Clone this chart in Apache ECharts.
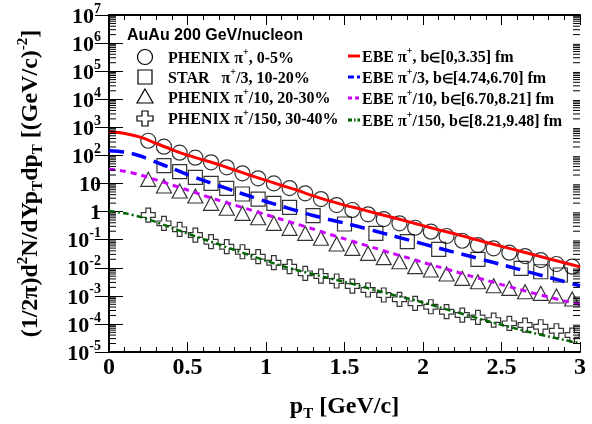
<!DOCTYPE html>
<html><head><meta charset="utf-8">
<script src="https://cdn.jsdelivr.net/npm/echarts@6/dist/echarts.min.js"></script>
<style>html,body{margin:0;padding:0;background:#fff}#c{width:592px;height:424px}</style>
</head><body><div id="c"></div>
<script>
// ---- data ----
const pT_phenix = [0.25,0.35,0.45,0.55,0.65,0.75,0.85,0.95,1.05,1.15,1.25,1.35,1.45,1.55,1.65,1.75,1.85,1.95,2.05,2.15,2.25,2.35,2.45,2.55,2.65,2.75,2.85,2.95];
const phenix_0_5 = [333,204,125,82.8,56.8,37.7,23.1,15.3,10.1,6.90,4.47,2.80,1.71,1.14,0.798,0.543,0.382,0.266,0.192,0.135,0.0916,0.0644,0.0492,0.0343,0.0261,0.0188,0.0136,0.0109];
const pT_star = [0.35,0.45,0.55,0.65,0.75,0.85,0.95,1.05,1.15,1.3,1.5,1.7,1.9,2.1,2.35,2.625,2.75,2.875];
const star_10_20 = [43.0,26.3,16.6,10.1,6.73,4.22,2.80,1.97,1.42,0.713,0.361,0.168,0.0845,0.0453,0.0200,0.00953,0.00721,0.00551];
const phenix_20_30 = [14.1,8.13,5.40,3.58,1.97,1.31,0.867,0.604,0.382,0.254,0.168,0.112,0.0700,0.0492,0.0327,0.0228,0.0164,0.0109,0.00830,0.00597,0.00420,0.00318,0.00229,0.00185,0.00140,0.00123,0.000984,0.000769];
const phenix_30_40 = [0.753,0.382,0.233,0.146,0.0845,0.0561,0.0372,0.0247,0.0151,0.0109,0.00632,0.00507,0.00337,0.00223,0.00161,0.00107,0.000750,0.000541,0.000409,0.000272,0.000207,0.000171,0.000137,0.000105,0.0000912,0.0000794,0.0000571,0.0000402];
const pT_model = [0,0.1,0.2,0.3,0.4,0.5,0.6,0.7,0.8,0.9,1.0,1.1,1.2,1.3,1.4,1.5,1.6,1.7,1.8,1.9,2.0,2.1,2.2,2.3,2.4,2.5,2.6,2.7,2.8,2.9,3.0];
const ebe_0 = [692,603,447,269,162,102,69.2,46.8,30.2,19.5,12.9,8.51,5.75,3.63,2.45,1.70,1.23,0.871,0.631,0.447,0.316,0.224,0.162,0.115,0.0813,0.0575,0.0417,0.0295,0.0209,0.0151,0.0107];
const ebe_1 = [148,132,95.5,57.5,34.7,20.9,12.9,8.32,5.37,3.47,2.29,1.55,1.05,0.724,0.525,0.389,0.282,0.200,0.141,0.100,0.0708,0.0501,0.0355,0.0257,0.0182,0.0129,0.00912,0.00646,0.00457,0.00324,0.00229];
const ebe_2 = [32.4,27.5,20.0,13.5,8.91,5.89,3.80,2.51,1.70,1.15,0.776,0.525,0.355,0.240,0.158,0.107,0.0724,0.0490,0.0331,0.0229,0.0155,0.0107,0.00741,0.00513,0.00363,0.00251,0.00178,0.00126,0.000912,0.000661,0.000501];
const ebe_3 = [1.05,0.871,0.646,0.427,0.263,0.166,0.105,0.0676,0.0427,0.0275,0.0178,0.0117,0.00813,0.00589,0.00427,0.00316,0.00224,0.00158,0.00112,0.000813,0.000575,0.000398,0.000275,0.000191,0.000132,0.0000933,0.0000661,0.0000479,0.0000355,0.0000269,0.0000204];
const xTicks = [0,0.5,1,1.5,2,2.5,3];
const yDecades = [-5,-4,-3,-2,-1,0,1,2,3,4,5,6,7];
const legendLeft = ['PHENIX π{s|+}, 0-5%','STAR   π{s|+}/3, 10-20%','PHENIX π{s|+}/10, 20-30%','PHENIX π{s|+}/150, 30-40%'];
const legendRight = ['EBE π{s|+}, b{e|∈}[0,3.35] fm','EBE π{s|+}/3, b{e|∈}[4.74,6.70] fm','EBE π{s|+}/10, b{e|∈}[6.70,8.21] fm','EBE π{s|+}/150, b{e|∈}[8.21,9.48] fm'];

const SERIF = '"Liberation Serif","Times New Roman",serif';
const zip = (xs, ys) => xs.map((x, i) => [x, ys[i]]);
const minorY = [];
yDecades.slice(0, -1).forEach(e => { for (let k = 2; k <= 9; k++) minorY.push([0, k * Math.pow(10, e)]); });

const chart = echarts.init(document.getElementById('c'), null, {renderer: 'canvas'});
const crossPath = 'path://M4,0H8V4H12V8H8V12H4V8H0V4H4Z';
const open = {color: 'rgba(0,0,0,0)', borderColor: '#000', borderWidth: 1.2};

const rowsY = [57, 77, 97, 118];
const rowsYR = [56, 77, 98, 120];
const graphics = [];
graphics.push({type: 'text', left: 127, top: 28, style: {text: 'AuAu 200 GeV/nucleon', font: 'bold 16px "Liberation Sans",Arial,sans-serif', fill: '#000'}});
graphics.push({type: 'circle', shape: {cx: 145, cy: rowsY[0], r: 7.5}, style: {fill: 'none', stroke: '#000', lineWidth: 1.2}});
graphics.push({type: 'rect', shape: {x: 138, y: rowsY[1] - 7, width: 14, height: 14}, style: {fill: 'none', stroke: '#000', lineWidth: 1.2}});
graphics.push({type: 'polygon', shape: {points: [[145, rowsY[2] - 8], [153, rowsY[2] + 6], [137, rowsY[2] + 6]]}, style: {fill: 'none', stroke: '#000', lineWidth: 1.2}});
graphics.push({type: 'polygon', shape: {points: [[142, rowsY[3]-7],[148, rowsY[3]-7],[148, rowsY[3]-2],[153, rowsY[3]-2],[153, rowsY[3]+3],[148, rowsY[3]+3],[148, rowsY[3]+8],[142, rowsY[3]+8],[142, rowsY[3]+3],[137, rowsY[3]+3],[137, rowsY[3]-2],[142, rowsY[3]-2]]}, style: {fill: 'none', stroke: '#000', lineWidth: 1.2}});
const richLeg = {
  t: {fontFamily: SERIF, fontWeight: 'bold', fontSize: 16, lineHeight: 20, verticalAlign: 'bottom', fill: '#000'},
  e: {fontFamily: SERIF, fontWeight: 'bold', fontSize: 13, lineHeight: 20, verticalAlign: 'bottom', fill: '#000', padding: [0, 0, 1, 0]},
  s: {fontFamily: SERIF, fontWeight: 'bold', fontSize: 10, lineHeight: 20, verticalAlign: 'top', fill: '#000'}
};
const toRich = t => t.split(/(\{[se]\|[^}]*\})/).map(p => p.startsWith('{') ? p : (p ? '{t|' + p + '}' : '')).join('');
legendLeft.forEach((t, i) => {
  graphics.push({type: 'text', x: 168, y: rowsY[i], style: {text: toRich(t), rich: richLeg, verticalAlign: 'middle', fill: '#000'}});
});
const legColors = ['#ff0000', '#0000ff', '#cc00ff', '#006400'];
const legDash = [null, [6, 3], [4, 3], [4, 2, 1.5, 2]];
legendRight.forEach((t, i) => {
  graphics.push({type: 'line', shape: {x1: 348, y1: rowsYR[i], x2: 360, y2: rowsYR[i]}, style: {stroke: legColors[i], lineWidth: 3, lineDash: legDash[i]}});
  graphics.push({type: 'text', x: 362, y: rowsYR[i], style: {text: toRich(t), rich: richLeg, verticalAlign: 'middle', fill: '#000'}});
});

const axisLineStyle = {color: '#000', width: 2};
const option = {
  backgroundColor: '#fff',
  animation: false,
  grid: {left: 109, right: 12, top: 15, bottom: 72, outerBoundsMode: 'none', containLabel: false},
  xAxis: [{
    type: 'value', min: xTicks[0], max: xTicks[xTicks.length - 1], interval: 0.5,
    axisLine: {lineStyle: axisLineStyle},
    axisTick: {inside: true, length: 10, lineStyle: {color: '#000', width: 1}},
    minorTick: {show: true, splitNumber: 5, length: 5, lineStyle: {color: '#000', width: 1}},
    splitLine: {show: false},
    axisLabel: {margin: 4, fontSize: 24, fontFamily: SERIF, fontWeight: 'bold', color: '#000',
      formatter: v => String(v)},
    name: '{m|p}{sub|T}{m| [GeV/c]}', nameLocation: 'middle', nameGap: 40, nameMoveOverlap: false,
    nameTextStyle: {rich: {
      m: {fontSize: 24, fontFamily: SERIF, fontWeight: 'bold', color: '#000', lineHeight: 30, verticalAlign: 'middle'},
      sub: {fontSize: 15, fontFamily: SERIF, fontWeight: 'bold', color: '#000', lineHeight: 30, verticalAlign: 'bottom'}
    }}
  }, {
    type: 'value', position: 'top', min: 0, max: 3, interval: 0.5,
    axisLine: {lineStyle: axisLineStyle},
    axisTick: {inside: true, length: 10, lineStyle: {color: '#000', width: 1}},
    minorTick: {show: true, splitNumber: 5, length: 5, lineStyle: {color: '#000', width: 1}},
    splitLine: {show: false}, axisLabel: {show: false}
  }],
  yAxis: [{
    type: 'log', logBase: 10, min: Math.pow(10, yDecades[0]), max: Math.pow(10, yDecades[yDecades.length - 1]), interval: 1,
    axisLine: {lineStyle: axisLineStyle},
    axisTick: {inside: true, length: 14, lineStyle: {color: '#000', width: 1}},
    splitLine: {show: false},
    axisLabel: {margin: 8, formatter: v => {
      const e = Math.round(Math.log10(v));
      if (e === 0) return '{b|1}';
      if (e === 1) return '{b|10}';
      return '{b|10}{s|' + e + '}';
    }, rich: {
      b: {fontSize: 22, fontFamily: SERIF, fontWeight: 'bold', color: '#000', lineHeight: 26, verticalAlign: 'bottom'},
      s: {fontSize: 14, fontFamily: SERIF, fontWeight: 'bold', color: '#000', lineHeight: 26, verticalAlign: 'top'}
    }},
    name: '{m|(1/2π)d}{sup|2}{m|N/dYp}{sub|T}{m|dp}{sub|T}{m| [(GeV/c)}{sup|-2}{m|]}',
    nameLocation: 'middle', nameGap: 63, nameMoveOverlap: false,
    nameTextStyle: {rich: {
      m: {fontSize: 24, fontFamily: SERIF, fontWeight: 'bold', color: '#000', lineHeight: 30, verticalAlign: 'middle'},
      sub: {fontSize: 15, fontFamily: SERIF, fontWeight: 'bold', color: '#000', lineHeight: 30, verticalAlign: 'bottom'},
      sup: {fontSize: 15, fontFamily: SERIF, fontWeight: 'bold', color: '#000', lineHeight: 30, verticalAlign: 'top'}
    }}
  }, {
    type: 'log', logBase: 10, position: 'right', min: Math.pow(10, yDecades[0]), max: Math.pow(10, yDecades[yDecades.length - 1]), interval: 1,
    axisLine: {lineStyle: axisLineStyle},
    axisTick: {inside: true, length: 14, lineStyle: {color: '#000', width: 1}},
    splitLine: {show: false}, axisLabel: {show: false}
  }],
  graphic: graphics,
  series: [
    {type: 'custom', silent: true, clip: false, data: minorY, z: 5,
      renderItem: (params, api) => {
        const v = api.value(1);
        const pL = api.coord([0, v]);
        const pR = api.coord([3, v]);
        return {type: 'group', children: [
          {type: 'line', shape: {x1: pL[0], y1: pL[1], x2: pL[0] + 7, y2: pL[1]}, style: {stroke: '#000', lineWidth: 1}},
          {type: 'line', shape: {x1: pR[0] - 7, y1: pR[1], x2: pR[0], y2: pR[1]}, style: {stroke: '#000', lineWidth: 1}}
        ]};
      }},
    {type: 'scatter', name: 'PHENIX 0-5%', data: zip(pT_phenix, phenix_0_5), symbol: 'circle', symbolSize: 15, itemStyle: open, z: 3},
    {type: 'scatter', name: 'STAR 10-20%', data: zip(pT_star, star_10_20), symbol: 'rect', symbolSize: 14, itemStyle: open, z: 3},
    {type: 'scatter', name: 'PHENIX 20-30%', data: zip(pT_phenix, phenix_20_30), symbol: 'triangle', symbolSize: [15, 14], itemStyle: open, z: 3},
    {type: 'scatter', name: 'PHENIX 30-40%', data: zip(pT_phenix, phenix_30_40), symbol: crossPath, symbolSize: 14, itemStyle: open, z: 3},
    {type: 'line', name: 'EBE 0', data: zip(pT_model, ebe_0), symbol: 'none', smooth: 0.3, lineStyle: {color: '#ff0000', width: 3}, z: 4},
    {type: 'line', name: 'EBE 1', data: zip(pT_model, ebe_1), symbol: 'none', smooth: 0.3, lineStyle: {color: '#0000ff', width: 3.5, type: [15, 8]}, z: 4},
    {type: 'line', name: 'EBE 2', data: zip(pT_model, ebe_2), symbol: 'none', smooth: 0.3, lineStyle: {color: '#cc00ff', width: 3, type: [6, 5]}, z: 4},
    {type: 'line', name: 'EBE 3', data: zip(pT_model, ebe_3), symbol: 'none', smooth: 0.3, lineStyle: {color: '#006400', width: 2.5, type: [6, 3, 2, 3]}, z: 4}
  ]
};
chart.setOption(option);
</script></body></html>
